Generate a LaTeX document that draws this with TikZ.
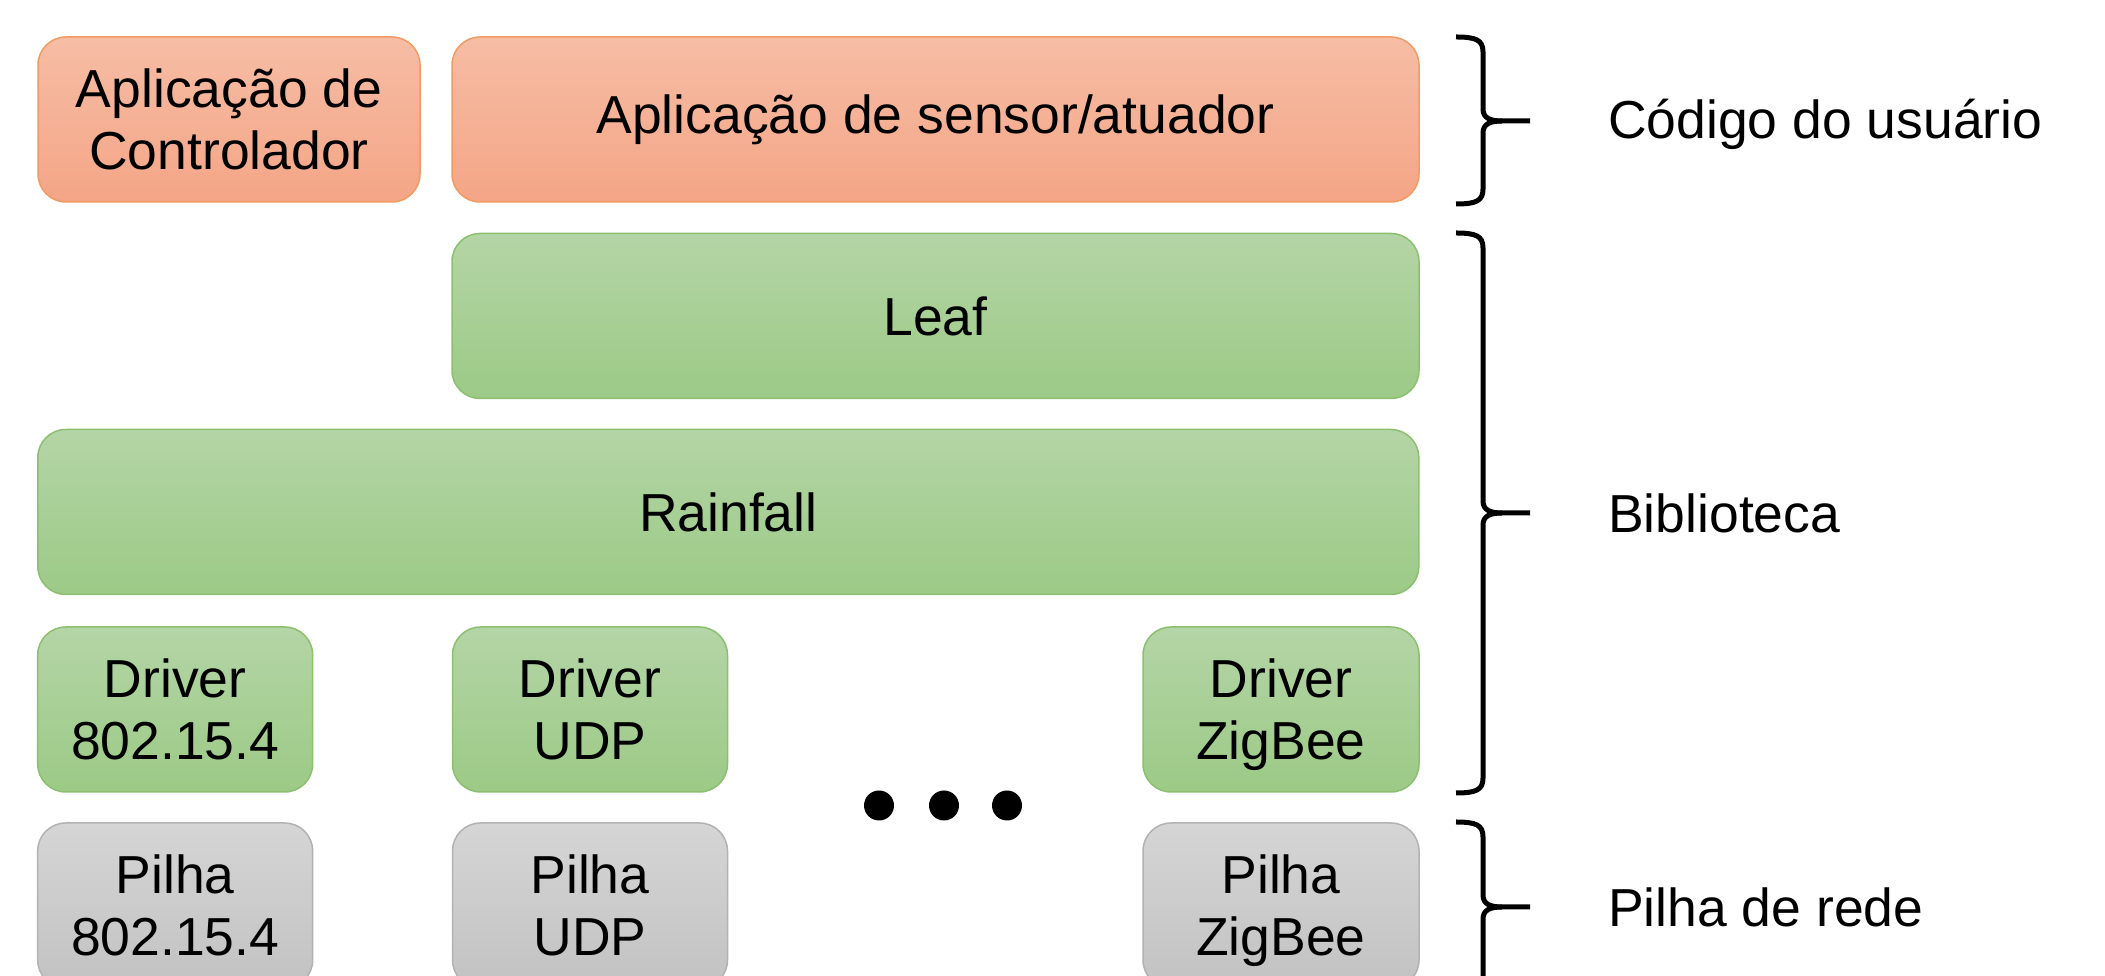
\documentclass[tikz,border=0pt]{standalone}
\usepackage{fontspec}
\setmainfont{Liberation Sans}
\definecolor{orTop}{HTML}{F6BDA5}
\definecolor{orBot}{HTML}{F4A586}
\definecolor{orLine}{HTML}{F19A62}
\definecolor{grTop}{HTML}{B4D5A6}
\definecolor{grBot}{HTML}{9CCA86}
\definecolor{grLine}{HTML}{8CC070}
\definecolor{gyTop}{HTML}{D5D5D5}
\definecolor{gyBot}{HTML}{C2C2C2}
\definecolor{gyLine}{HTML}{B2B2B2}
\tikzset{
  blk/.style={draw, line width=1.5pt, rounded corners=28pt, minimum height=165pt,
    align=center, inner sep=0pt, font=\fontsize{53.5}{62}\selectfont},
  orangebox/.style={blk, draw=orLine, top color=orTop, bottom color=orBot},
  greenbox/.style={blk, draw=grLine, top color=grTop, bottom color=grBot},
  graybox/.style={blk, draw=gyLine, top color=gyTop, bottom color=gyBot},
  brc/.style={line width=5pt, line join=round},
  lbl/.style={anchor=west, inner sep=0pt, font=\fontsize{53.5}{62}\selectfont},
  dotmark/.style={circle, fill=black, minimum size=30pt, inner sep=0pt}
}
\begin{document}
\begin{tikzpicture}[x=1pt,y=1pt]
\useasboundingbox (0,0) rectangle (2105,976);
\clip (0,0) rectangle (2105,976);
% user code
\node[orangebox, minimum width=382pt] (ctrl) at (229,856.5) {Aplicação de\\Controlador};
\node[orangebox, minimum width=967pt] (sens) at (935.5,856.5) {Aplicação de sensor/atuador};
% library
\node[greenbox, minimum width=967pt] (leaf) at (935.5,660) {Leaf};
\node[greenbox, minimum width=1381pt] (rain) at (728.3,464) {Rainfall};
\node[greenbox, minimum width=275pt] (d1) at (175.2,266.5) {Driver\\802.15.4};
\node[greenbox, minimum width=275pt] (d2) at (590,266.5) {Driver\\UDP};
\node[greenbox, minimum width=276pt] (d3) at (1281,266.5) {Driver\\\smash{ZigBee}};
% network stack
\node[graybox, minimum width=275pt] (p1) at (175.2,70.5) {Pilha\\802.15.4};
\node[graybox, minimum width=275pt] (p2) at (590,70.5) {Pilha\\UDP};
\node[graybox, minimum width=276pt] (p3) at (1281,70.5) {Pilha\\\smash{ZigBee}};
% dots
\node[dotmark] (dot1) at (879,170.5) {};
\node[dotmark] (dot2) at (944,170.5) {};
\node[dotmark] (dot3) at (1007,170.5) {};
% braces
\foreach \T/\B/\M/\nm in {939/772/855/b1, 743/183/463/b2, 154/-16/69/b3}{
  \draw[brc] (1456,\T) .. controls (1476,\T) and (1483,\T-3) .. (1483,\T-15)
     -- (1483,\M+12) .. controls (1483,\M+3) and (1490,\M) .. (1502,\M) -- (1530,\M);
  \draw[brc] (1456,\B) .. controls (1476,\B) and (1483,\B+3) .. (1483,\B+15)
     -- (1483,\M-12) .. controls (1483,\M-3) and (1490,\M) .. (1502,\M);
}
\node[lbl] (l1) at (1608,852) {Código do usuário};
\node[lbl] (l2) at (1608,463) {Biblioteca};
\node[lbl] (l3) at (1608,69) {Pilha de rede};
\end{tikzpicture}
\end{document}
